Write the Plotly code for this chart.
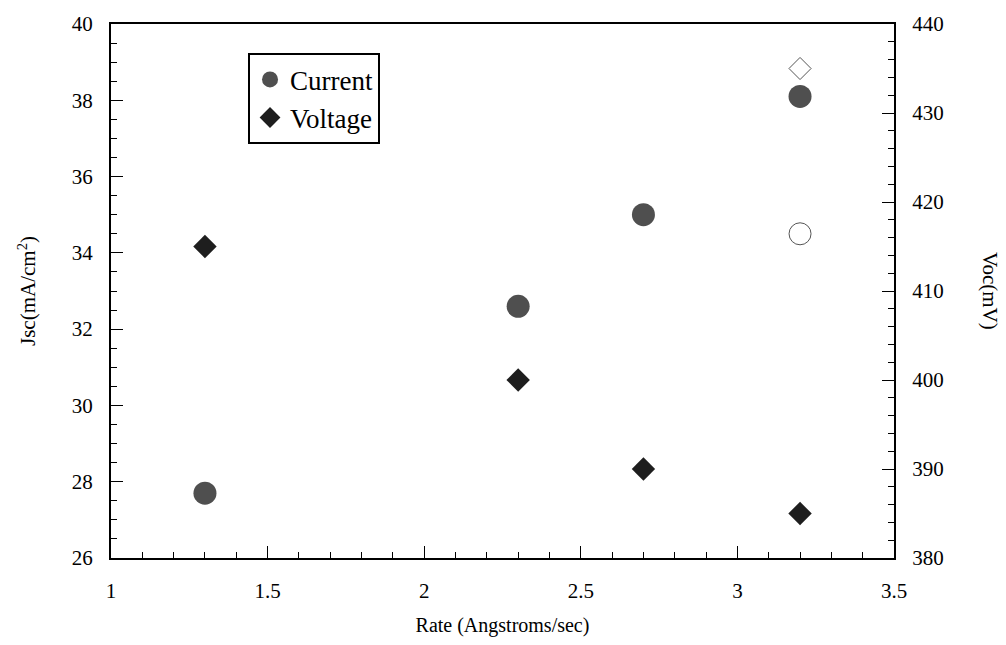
import plotly.graph_objects as go

rate = [1.3, 2.3, 2.7, 3.2]
current = [27.7, 32.6, 35.0, 38.1]
voltage = [415, 400, 390, 385]
extra_rate = [3.2]
extra_current = [34.5]
extra_voltage = [435]

FONT = "Liberation Serif, Tinos, Times New Roman, DejaVu Serif, serif"
fig = go.Figure()
fig.add_trace(go.Scatter(x=rate, y=current, mode="markers", name="Current",
                         marker=dict(symbol="circle", size=23, color="#4f4f4f",
                                     line=dict(width=0))))
fig.add_trace(go.Scatter(x=rate, y=voltage, mode="markers", name="Voltage", yaxis="y2",
                         marker=dict(symbol="diamond", size=18, color="#1e1e1e",
                                     line=dict(width=0))))
fig.add_trace(go.Scatter(x=extra_rate, y=extra_current, mode="markers", showlegend=False,
                         marker=dict(symbol="circle-open", size=22, color="#555555",
                                     line=dict(width=1, color="#555555"))))
fig.add_trace(go.Scatter(x=extra_rate, y=extra_voltage, mode="markers", showlegend=False,
                         yaxis="y2",
                         marker=dict(symbol="diamond-open", size=17, color="#555555",
                                     line=dict(width=1, color="#555555"))))

axis_common = dict(showgrid=False, zeroline=False, showline=True, linecolor="black",
                   linewidth=2, ticks="inside", ticklen=12, tickwidth=1, tickcolor="black",
                   tickfont=dict(family=FONT, size=21, color="black"))

fig.update_layout(
    width=1006, height=645,
    margin=dict(l=111, r=112, t=20, b=85),
    plot_bgcolor="white", paper_bgcolor="white",
    font=dict(family=FONT, color="black"),
    xaxis=dict(range=[1, 3.5], dtick=0.5, mirror=True, ticklabelstandoff=13,
               minor=dict(dtick=0.1, ticks="inside", ticklen=6, tickcolor="black", tickwidth=1),
               title=dict(text="Rate (Angstroms/sec)", font=dict(family=FONT, size=20), standoff=16),
               **axis_common),
    yaxis=dict(range=[26, 40], dtick=2, ticklabelstandoff=12,
               minor=dict(dtick=0.5, ticks="inside", ticklen=6, tickcolor="black", tickwidth=1),
               title=dict(text="Jsc(mA/cm<sup>2</sup>)", font=dict(family=FONT, size=21), standoff=30),
               **axis_common),
    yaxis2=dict(range=[380, 440], dtick=10, overlaying="y", side="right", ticklabelstandoff=12,
                minor=dict(dtick=2, ticks="inside", ticklen=6, tickcolor="black", tickwidth=1),
                **axis_common),
    legend=dict(x=0.175, y=0.945, xanchor="left", yanchor="top",
                bordercolor="black", borderwidth=2, bgcolor="white",
                font=dict(family=FONT, size=27, color="black"),
                itemwidth=30, tracegroupgap=0),
    showlegend=True,
    annotations=[dict(text="Voc(mV)", textangle=90, xref="paper", yref="paper",
                      x=1, y=0.5, xanchor="center", yanchor="middle", xshift=96,
                      showarrow=False,
                      font=dict(family=FONT, size=21, color="black"))],
)

fig.write_html("out.html")
